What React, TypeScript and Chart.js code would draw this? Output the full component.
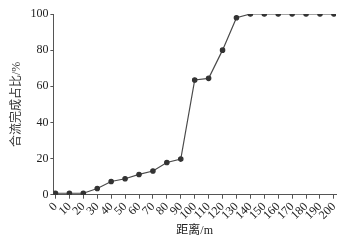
import React, { useEffect, useRef } from "react";
import { Chart, registerables } from "chart.js";

Chart.register(...registerables);

const distances = [0, 10, 20, 30, 40, 50, 60, 70, 80, 90, 100, 110, 120, 130, 140, 150, 160, 170, 180, 190, 200];
const ratios = [0.8, 0.8, 0.8, 3.4, 7.3, 8.8, 11.2, 13.1, 17.8, 19.7, 63.5, 64.4, 80, 97.9, 100, 100, 100, 100, 100, 100, 100];
const xTitle = "距离/m";
const yTitle = "合流完成占比/%";

const FONT = "'Liberation Serif', 'Times New Roman', 'Noto Sans CJK SC', serif";

export default function App() {
  const ref = useRef<HTMLCanvasElement | null>(null);
  useEffect(() => {
    document.body.style.margin = "0";
    const ctx = ref.current!;
    const chart = new Chart(ctx, {
      type: "line",
      data: {
        datasets: [
          {
            data: distances.map((d, i) => ({ x: d, y: ratios[i] })),
            borderColor: "#4a4a4a",
            borderWidth: 1.2,
            pointRadius: 2.2,
            pointBackgroundColor: "#333",
            pointBorderColor: "#333",
            tension: 0,
          },
        ],
      },
      options: {
        responsive: false,
        animation: false,
        maintainAspectRatio: false,
        layout: { padding: { left: 10, right: 18, top: 14, bottom: 3 } },
        plugins: { legend: { display: false }, tooltip: { enabled: false } },
        scales: {
          x: {
            type: "linear",
            min: -1.5,
            max: 201.5,
            border: { color: "#555", width: 1 },
            grid: { drawOnChartArea: false, drawTicks: true, tickLength: 4, color: "#555" },
            ticks: {
              stepSize: 10,
              includeBounds: false,
              autoSkip: false,
              maxRotation: 45,
              minRotation: 45,
              padding: 1,
              color: "#222",
              font: { family: FONT, size: 12 },
            },
            title: {
              display: true,
              text: xTitle,
              color: "#222",
              font: { family: FONT, size: 12 },
              padding: { top: 0, bottom: 0 },
            },
          },
          y: {
            type: "linear",
            min: 0,
            max: 100,
            border: { color: "#555", width: 1 },
            grid: { drawOnChartArea: false, drawTicks: true, tickLength: 3, color: "#555" },
            ticks: {
              stepSize: 20,
              padding: 2,
              color: "#222",
              font: { family: FONT, size: 12 },
            },
            title: {
              display: true,
              text: yTitle,
              color: "#333",
              font: { family: FONT, size: 12 },
              padding: { top: 0, bottom: 4 },
            },
          },
        },
      },
    });
    return () => chart.destroy();
  }, []);
  return (
    <div style={{ width: 354, height: 241, background: "#fff" }}>
      <canvas ref={ref} width={354} height={241} />
    </div>
  );
}
